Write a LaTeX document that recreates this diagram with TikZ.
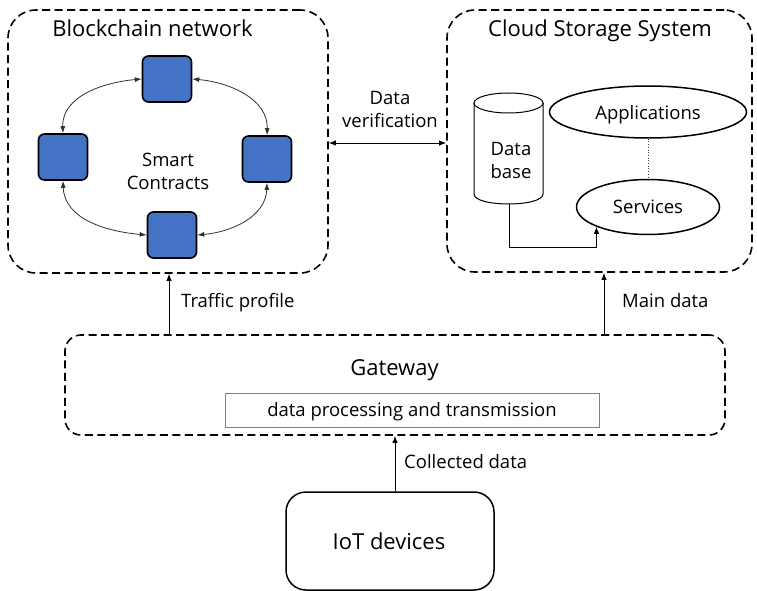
\documentclass[tikz,border=0pt]{standalone}
\usepackage{fontspec}
\setmainfont{Open Sans}
\usetikzlibrary{arrows.meta,shapes.geometric}
\definecolor{sqfill}{HTML}{4472C4}
\definecolor{inblue}{HTML}{4F86E0}
\definecolor{ringgray}{HTML}{303030}
\begin{document}
\begin{tikzpicture}[x=1pt,y=1pt,
  dbox/.style={draw, line width=1.6pt, dash pattern=on 8pt off 4.5pt, rounded corners=28pt, inner sep=0},
  sq/.style={draw, line width=1.6pt, fill=sqfill, rounded corners=6pt, minimum width=49pt, minimum height=46pt, inner sep=0},
  ringarrow/.style={{Latex[length=7pt,width=5pt]}-{Latex[length=7pt,width=5pt]}, line width=0.8pt, draw=ringgray},
  conn/.style={-{Latex[length=7pt,width=5.5pt]}, line width=1pt},
  lbl/.style={font=\fontsize{18.5}{23}\selectfont, align=center, inner sep=0},
  ttl/.style={font=\fontsize{22}{26}\selectfont, inner sep=0},
  ell/.style={draw, ellipse, line width=1.5pt, inner sep=0}
]
\useasboundingbox (0,0) rectangle (757,-591);
\fill[white] (0,0) rectangle (757,-591);

% big containers
\node[dbox, minimum width=320pt, minimum height=263pt] (bc) at (168,-141.5) {};
\node[dbox, minimum width=305pt, minimum height=262pt] (cl) at (599.5,-141) {};
\node[dbox, rounded corners=16pt, minimum width=660pt, minimum height=100pt] (gw) at (395,-385) {};
\node[draw, line width=1.5pt, rounded corners=20pt, minimum width=208pt, minimum height=98pt] (iot) at (390,-541) {};

% titles
\node[ttl, anchor=base] (bct) at (152.5,-37) {Blockchain network};
\node[ttl, anchor=base] (clt) at (600,-37) {Cloud Storage System};
\node[ttl, anchor=base] (gwt) at (394.5,-375) {Gateway};
\node[ttl, anchor=base] (iott) at (389,-549) {IoT devices};

% blockchain ring
\node[sq] (s1) at (167,-79) {};
\node[sq] (s2) at (63,-157) {};
\node[sq] (s3) at (267,-159) {};
\node[sq] (s4) at (172,-235) {};
\node[lbl] (sc) at (168,-171) {Smart\\Contracts};
\draw[ringarrow] (s1.west) to[out=185,in=92] (s2.north);
\draw[ringarrow] (s1.east) to[out=-5,in=88] (s3.north);
\draw[ringarrow] (s2.south) to[out=-88,in=175] (s4.west);
\draw[ringarrow] (s4.east) to[out=5,in=-92] (s3.south);

% data verification
\coordinate (dv) at (390,-143);
\node[lbl] (dvt) at (390,-109) {Data\\verification};
\draw[{Latex[length=7pt,width=5.5pt]}-{Latex[length=7pt,width=5.5pt]}, line width=1pt] (bc.east |- dv) -- (cl.west |- dv);

% database cylinder
\draw[line width=1pt] (474,-103) -- (474,-194) .. controls (474,-207.3) and (543,-207.3) .. (543,-194) -- (543,-103);
\draw[line width=1pt] (508.5,-103) ellipse [x radius=34.5, y radius=10];
\node[lbl] (db) at (511,-160) {Data\\base};
\coordinate (dbb) at (509,-204);

% cloud ellipses
\node[ell, minimum width=197pt, minimum height=52pt] (app) at (648,-112) {};
\node[lbl, anchor=base] (appt) at (648,-120) {Applications};
\node[ell, minimum width=143pt, minimum height=55pt] (svc) at (648,-207) {};
\node[lbl, anchor=base] (svct) at (648,-213) {Services};
\draw[line width=0.7pt, dotted, draw=ringgray] (app.south) -- (svc.north);
\draw[conn, line width=0.9pt] (dbb) -- (509,-247) -| (svc.201);

% gateway inner box
\node[draw=inblue, line width=1pt, minimum width=374pt, minimum height=34pt, inner sep=0] (proc) at (412,-410) {};
\node[lbl, anchor=base] (proct) at (412,-416) {data processing and transmission};

% vertical connectors
\coordinate (tpx) at (169,0);
\coordinate (mdx) at (604,0);
\coordinate (cdx) at (395,0);
\draw[conn] (gw.north -| tpx) -- (bc.south -| tpx);
\draw[conn] (gw.north -| mdx) -- (cl.south -| mdx);
\draw[conn] (iot.north -| cdx) -- (gw.south -| cdx);
\node[lbl, anchor=base west] (tpt) at (181,-307) {Traffic profile};
\node[lbl, anchor=base west] (mdt) at (622,-307) {Main data};
\node[lbl, anchor=base west] (cdt) at (404,-468) {Collected data};
\end{tikzpicture}
\end{document}
